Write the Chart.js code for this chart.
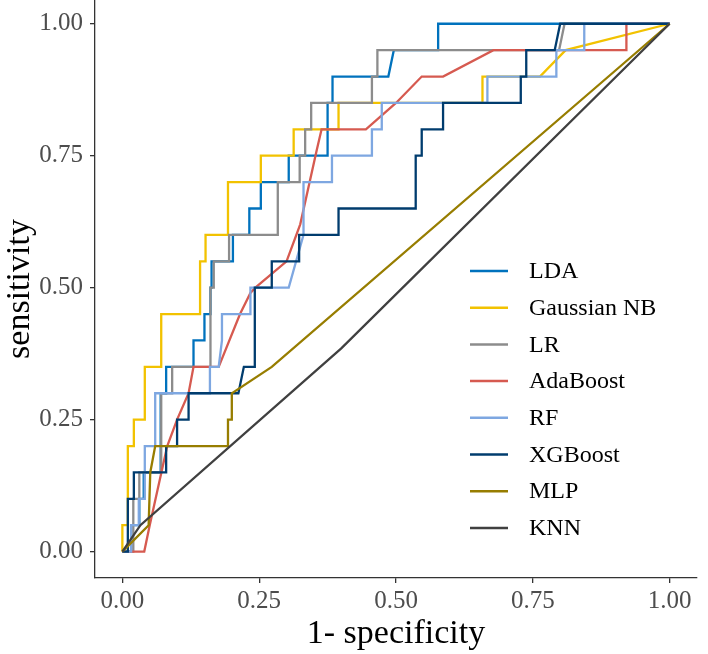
<!DOCTYPE html>
<html>
<head>
<meta charset="utf-8">
<script src="https://cdn.jsdelivr.net/npm/chart.js@4.4.1/dist/chart.umd.min.js"></script>
<style>
html, body { margin: 0; padding: 0; background: #fff; }
#wrap { width: 708px; height: 654px; }
</style>
</head>
<body>
<div id="wrap"><canvas id="rocChart" width="708" height="654"></canvas></div>
<script>
// ROC curves: fpr = 1 - specificity, tpr = sensitivity
var modelNames = ['LDA', 'Gaussian NB', 'LR', 'AdaBoost', 'RF', 'XGBoost', 'MLP', 'KNN'];
var modelColors = ['#0072BD', '#F2C200', '#8C8C8C', '#D65A50', '#7EA7E1', '#003C6E', '#977D00', '#404040'];

var fprLDA = [0,0.016,0.016,0.031,0.031,0.039,0.039,0.07,0.07,0.08,0.08,0.13,0.13,0.15,0.15,0.161,0.161,0.163,0.163,0.202,0.202,0.232,0.232,0.253,0.253,0.304,0.304,0.375,0.375,0.384,0.384,0.486,0.496,0.577,0.577,1];
var tprLDA = [0,0,0.05,0.05,0.1,0.1,0.15,0.15,0.3,0.3,0.35,0.35,0.4,0.4,0.45,0.45,0.5,0.5,0.55,0.55,0.6,0.6,0.65,0.65,0.7,0.7,0.75,0.75,0.85,0.85,0.9,0.9,0.95,0.95,1,1];

var fprGNB = [0,0,0.01,0.01,0.021,0.021,0.041,0.041,0.071,0.071,0.142,0.142,0.152,0.152,0.193,0.193,0.253,0.253,0.313,0.313,0.395,0.395,0.658,0.658,0.763,0.81,1];
var tprGNB = [0,0.05,0.05,0.2,0.2,0.25,0.25,0.35,0.35,0.45,0.45,0.55,0.55,0.6,0.6,0.7,0.7,0.75,0.75,0.8,0.8,0.85,0.85,0.9,0.9,0.95,1];

var fprLR = [0,0.02,0.02,0.031,0.031,0.071,0.071,0.091,0.091,0.161,0.161,0.167,0.167,0.195,0.195,0.284,0.284,0.324,0.324,0.334,0.334,0.345,0.345,0.456,0.456,0.466,0.466,0.798,0.808,1];
var tprLR = [0,0,0.1,0.1,0.15,0.15,0.3,0.3,0.35,0.35,0.5,0.5,0.55,0.55,0.6,0.6,0.7,0.7,0.75,0.75,0.8,0.8,0.85,0.85,0.9,0.9,0.95,0.95,1,1];

var fprAda = [0,0.04,0.05,0.082,0.1,0.121,0.13,0.176,0.215,0.234,0.243,0.3,0.325,0.355,0.364,0.445,0.5,0.547,0.586,0.678,0.921,0.921,1];
var tprAda = [0,0,0.05,0.2,0.25,0.3,0.35,0.35,0.45,0.49,0.5,0.55,0.62,0.76,0.8,0.8,0.85,0.9,0.9,0.95,0.95,1,1];

var fprRF = [0,0.016,0.016,0.03,0.03,0.041,0.041,0.06,0.06,0.16,0.16,0.176,0.182,0.182,0.234,0.234,0.304,0.331,0.331,0.383,0.383,0.456,0.456,0.474,0.474,0.667,0.667,0.793,0.793,0.844,0.844,1];
var tprRF = [0,0,0.05,0.05,0.1,0.1,0.2,0.2,0.3,0.3,0.35,0.35,0.4,0.45,0.45,0.5,0.5,0.6,0.7,0.7,0.75,0.75,0.8,0.8,0.85,0.85,0.9,0.9,0.95,0.95,1,1];

var fprXGB = [0,0.01,0.01,0.021,0.021,0.08,0.08,0.1,0.1,0.121,0.121,0.212,0.222,0.242,0.242,0.273,0.273,0.323,0.323,0.395,0.395,0.536,0.536,0.547,0.547,0.586,0.586,0.728,0.728,0.738,0.738,0.79,0.8,1];
var tprXGB = [0,0,0.1,0.1,0.15,0.15,0.2,0.2,0.25,0.25,0.3,0.3,0.35,0.35,0.5,0.5,0.55,0.55,0.6,0.6,0.65,0.65,0.75,0.75,0.8,0.8,0.85,0.85,0.9,0.9,0.95,0.95,1,1];

var fprMLP = [0,0.048,0.051,0.06,0.193,0.193,0.2,0.2,0.273,1];
var tprMLP = [0,0.05,0.15,0.2,0.2,0.25,0.25,0.3,0.35,1];

var fprKNN = [0,0.033,0.4,1];
var tprKNN = [0,0.05,0.385,1];

var tickValues = [0, 0.25, 0.5, 0.75, 1];

var fprList = [fprLDA, fprGNB, fprLR, fprAda, fprRF, fprXGB, fprMLP, fprKNN];
var tprList = [tprLDA, tprGNB, tprLR, tprAda, tprRF, tprXGB, tprMLP, tprKNN];

var serif = 'Liberation Serif';

function makeDatasets() {
	let datasets = [];
	for (let i = 0; i < modelNames.length; i++) {
		let pts = [];
		for (let j = 0; j < fprList[i].length; j++) {
			pts.push({x: fprList[i][j], y: tprList[i][j]});
		}
		datasets.push({
			label: modelNames[i],
			data: pts,
			showLine: true,
			borderColor: modelColors[i],
			backgroundColor: modelColors[i],
			borderWidth: 2.3,
			pointRadius: 0,
			tension: 0,
			// later models sit on top, like ggplot
			order: modelNames.length - i
		});
	}
	return datasets;
}

// legend drawn inside the panel, lower right
var insideLegend = {
	id: 'insideLegend',
	afterDatasetsDraw: function(chart) {
		let ctx = chart.ctx;
		ctx.save();
		ctx.font = '24px "' + serif + '"';
		ctx.textBaseline = 'middle';
		ctx.fillStyle = '#000';
		for (let i = 0; i < modelNames.length; i++) {
			let y = 271 + i * 36.7;
			ctx.strokeStyle = modelColors[i];
			ctx.lineWidth = 2.5;
			ctx.beginPath();
			ctx.moveTo(470, y);
			ctx.lineTo(508, y);
			ctx.stroke();
			ctx.fillText(modelNames[i], 529, y + 1);
		}
		ctx.restore();
	}
};

function axisOptions(title, min, max, isX) {
	return {
		type: 'linear',
		min: min,
		max: max,
		afterBuildTicks: function(scale) {
			scale.ticks = tickValues.map(function(v) { return {value: v}; });
		},
		afterFit: function(scale) {
			// fixed panel box, no extra room for end labels
			if (isX) {
				scale.height = 76;
				scale.paddingLeft = 0;
				scale.paddingRight = 0;
			} else {
				scale.width = 95;
				scale.paddingTop = 0;
				scale.paddingBottom = 0;
			}
		},
		ticks: {
			font: {family: serif, size: 25},
			color: '#4D4D4D',
			padding: isX ? 3 : 7,
			maxRotation: 0,
			autoSkip: false,
			callback: function(v) { return Number(v).toFixed(2); }
		},
		grid: {
			display: true,
			drawOnChartArea: false,
			drawTicks: true,
			tickLength: 5,
			color: '#333333',
			lineWidth: 1.3
		},
		border: {display: true, color: '#333333', width: 1.3},
		title: {
			display: true,
			text: title,
			color: '#000',
			font: {family: serif, size: 34},
			padding: {top: 0, bottom: 0}
		}
	};
}

var config = {
	type: 'scatter',
	data: {datasets: makeDatasets()},
	options: {
		responsive: false,
		animation: false,
		devicePixelRatio: 1,
		layout: {padding: {left: 0, right: 11, top: 0, bottom: 0}},
		scales: {
			x: axisOptions('1- specificity', -0.05, 1.05, true),
			y: axisOptions('sensitivity', -0.05, 1.045, false)
		},
		plugins: {
			legend: {display: false},
			tooltip: {enabled: false}
		}
	},
	plugins: [insideLegend]
};

var rocChart = new Chart(document.getElementById('rocChart'), config);
</script>
</body>
</html>
